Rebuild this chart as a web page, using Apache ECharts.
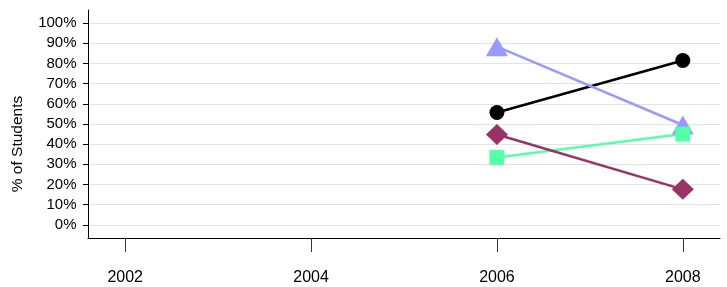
<!DOCTYPE html>
<html>
<head>
<meta charset="utf-8">
<script src="https://cdn.jsdelivr.net/npm/echarts@6/dist/echarts.min.js"></script>
<style>html,body{margin:0;padding:0;background:#fff}#c{width:727px;height:287px}</style>
</head>
<body>
<div id="c"></div>
<script>
var years = [2006, 2008];
var seriesBlack = [55.7, 81.5];
var seriesLavender = [88.3, 49.5];
var seriesGreen = [33.4, 45.0];
var seriesMaroon = [44.8, 17.6];
var xTicks = [2002, 2004, 2006, 2008];
var yTicks = [0, 10, 20, 30, 40, 50, 60, 70, 80, 90, 100];
var yTitle = '% of Students';

function pairs(vals) { return years.map(function (y, i) { return [y, vals[i]]; }); }

var font = 'Liberation Sans, Arial, sans-serif';
var chart = echarts.init(document.getElementById('c'), null, {renderer: 'canvas'});
chart.setOption({
  animation: false,
  backgroundColor: '#fff',
  grid: {left: 88, right: 7, top: 10, bottom: 49, containLabel: false},
  xAxis: {
    type: 'value', min: 2001.6, max: 2008.4,
    axisLine: {show: true, onZero: false, lineStyle: {color: '#000', width: 1}},
    axisTick: {show: true, length: 14, customValues: xTicks, lineStyle: {color: '#333'}},
    axisLabel: {customValues: xTicks, margin: 32, fontSize: 16, color: '#000', fontFamily: font,
      formatter: function (v) { return String(v); }},
    splitLine: {show: false}
  },
  yAxis: {
    type: 'value', min: -6.5, max: 106.5,
    axisLine: {show: true, onZero: false, lineStyle: {color: '#000', width: 1}},
    axisTick: {show: true, length: 5, customValues: yTicks, lineStyle: {color: '#000'}},
    axisLabel: {customValues: yTicks, margin: 11.5, fontSize: 15, color: '#000', fontFamily: font,
      formatter: function (v) { return v + '%'; }},
    splitLine: {show: true, lineStyle: {color: '#e3e3e3', width: 1}}
  },
  graphic: [{
    type: 'text', x: 18, y: 144, rotation: Math.PI / 2,
    style: {text: yTitle, fontSize: 15.5, fontFamily: font, fill: '#000', align: 'center', verticalAlign: 'middle'}
  }],
  series: [
    {type: 'line', data: pairs(seriesBlack), symbol: 'circle', symbolSize: 15,
      lineStyle: {color: '#000', width: 2.5}, itemStyle: {color: '#000'}},
    {type: 'line', data: pairs(seriesLavender), symbol: 'triangle', symbolSize: [22, 19],
      lineStyle: {color: '#9999FF', width: 2.5}, itemStyle: {color: '#9999FF'}},
    {type: 'line', data: pairs(seriesGreen), symbol: 'rect', symbolSize: 15,
      lineStyle: {color: '#55FFAA', width: 2.5}, itemStyle: {color: '#55FFAA'}},
    {type: 'line', data: pairs(seriesMaroon), symbol: 'diamond', symbolSize: [22, 21],
      lineStyle: {color: '#993366', width: 2.5}, itemStyle: {color: '#993366'}}
  ]
});
</script>
</body>
</html>
